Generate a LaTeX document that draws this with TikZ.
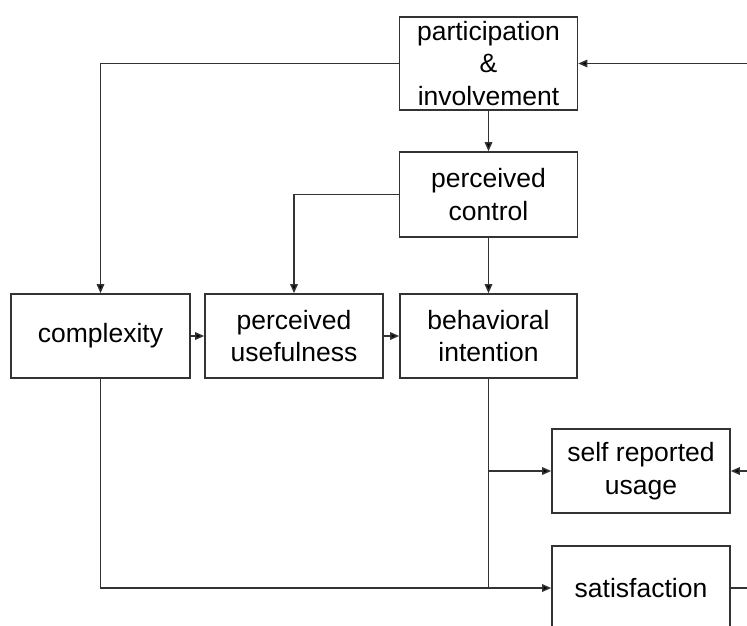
\documentclass[tikz,border=0pt]{standalone}
\usepackage{fontspec}
\setmainfont{Liberation Sans}
\usetikzlibrary{arrows.meta}
\begin{document}
\begin{tikzpicture}[x=1pt,y=-1pt,
  box/.style={draw=black!80, line width=1.6pt, rectangle, align=center,
    inner sep=0pt, minimum width=178pt, minimum height=84pt,
    text=black, font=\fontsize{26.5}{32.5}\selectfont},
  link/.style={draw=black!80, line width=1.5pt},
  arr/.style={link, -{Triangle[length=9pt,width=7.5pt,fill=black]}}]
\useasboundingbox (0,0) rectangle (747,625);
\node[box, minimum height=93pt] (part) at (488.5,63.5) {participation\\\&\\involvement};
\node[box, minimum height=85pt] (ctrl) at (488.5,194.5) {perceived\\control};
\node[box, minimum width=179pt] (cplx) at (100.5,336) {\raisebox{-3pt}{complexity}};
\node[box] (useful) at (294,336) {perceived\\usefulness};
\node[box, minimum width=177pt] (intent) at (488.5,336) {behavioral\\intention};
\node[box] (usage) at (641,471) {self reported\\usage};
\node[box] (sat) at (641,588) {satisfaction};
\coordinate (inR) at (747,63.5);
\coordinate (usR) at (747,471);
\coordinate (satR) at (747,588);
% feedback inputs from the right
\draw[arr] (inR) -- (part.east);
\draw[arr] (usR) -- (usage.east);
\draw[link] (sat.east) -- (satR);
% main chain
\draw[arr] (part.west) -| (cplx.north);
\draw[arr] (part.south) -- (ctrl.north);
\draw[arr] (ctrl.west) -| (useful.north);
\draw[arr] (ctrl.south) -- (intent.north);
\draw[arr] (cplx.east) -- (useful.west);
\draw[arr] (useful.east) -- (intent.west);
% outcomes
\draw[link] (intent.south) -- (intent.south |- sat.west);
\draw[arr] (intent.south |- usage.west) -- (usage.west);
\draw[arr] (cplx.south) |- (sat.west);
\end{tikzpicture}
\end{document}
